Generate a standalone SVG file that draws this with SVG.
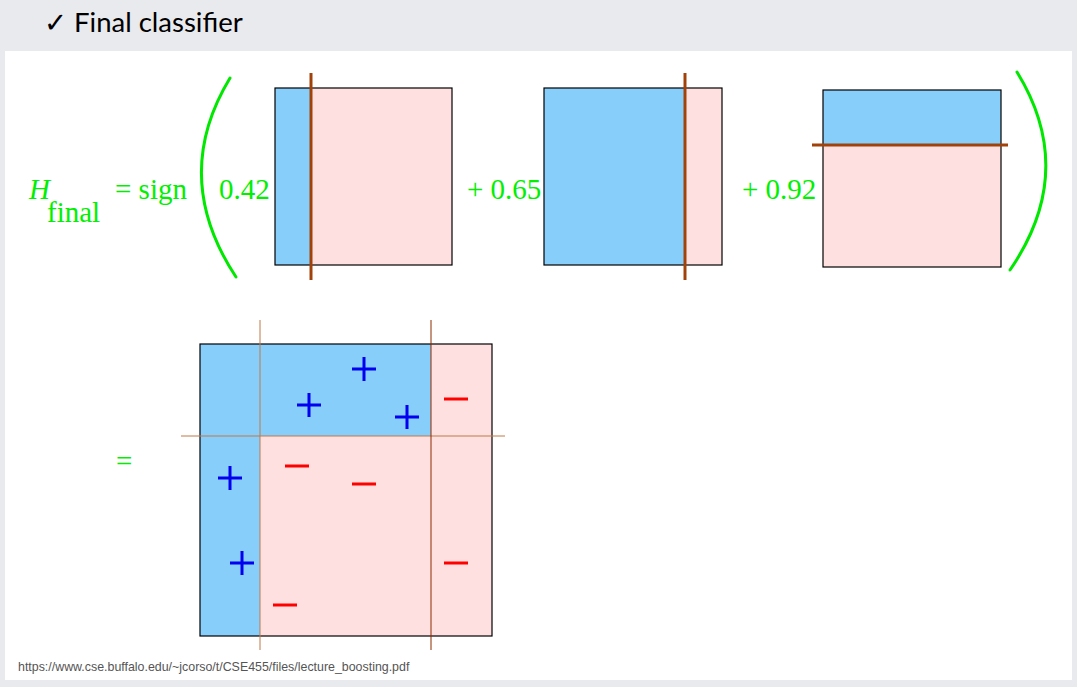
<svg xmlns="http://www.w3.org/2000/svg" width="1077" height="687" viewBox="0 0 1077 687">
<style>
.g{fill:#00f000;font-family:"Liberation Serif",serif;font-size:29px}
.blue{fill:#87cefa}
.pink{fill:#ffe0e0}
.frame{fill:none;stroke:#000;stroke-width:1.2}
.cut{stroke:#a0420a;stroke-width:3}
.paren{fill:none;stroke:#00e800;stroke-width:3;stroke-linecap:round}
.plus{stroke:#0000f0;stroke-width:3;fill:none}
.minus{stroke:#ff0000;stroke-width:3;fill:none}
</style>
<rect x="0" y="0" width="1077" height="687" fill="#e9eaee"/>
<rect x="5" y="51" width="1067" height="629" fill="#fff"/>
<text x="44" y="32" font-family="Lato, 'DejaVu Sans', sans-serif" font-size="27.5" fill="#000">✓ Final classifier</text>

<g id="formula">
<text class="g" x="29" y="199" font-style="italic">H</text>
<text class="g" x="47" y="222">final</text>
<text class="g" x="115" y="199">= sign</text>
<path class="paren" d="M230,78 Q170,177 236,277"/>
<text class="g" x="219" y="199">0.42</text>
<text class="g" x="467" y="199">+ 0.65</text>
<text class="g" x="742" y="199">+ 0.92</text>
<path class="paren" d="M1017,72 Q1078,171 1010,270"/>
</g>

<g id="stump1">
<rect class="blue" x="275" y="88" width="36" height="177"/>
<rect class="pink" x="311" y="88" width="141" height="177"/>
<rect class="frame" x="275" y="88" width="177" height="177"/>
<line class="cut" x1="311" y1="73" x2="311" y2="280"/>
</g>

<g id="stump2">
<rect class="blue" x="544" y="88" width="141" height="177"/>
<rect class="pink" x="685" y="88" width="37" height="177"/>
<rect class="frame" x="544" y="88" width="178" height="177"/>
<line class="cut" x1="685" y1="73" x2="685" y2="280"/>
</g>

<g id="stump3">
<rect class="blue" x="823" y="90" width="178" height="55"/>
<rect class="pink" x="823" y="145" width="178" height="122"/>
<rect class="frame" x="823" y="90" width="178" height="177"/>
<line class="cut" x1="812" y1="145" x2="1008" y2="145"/>
</g>

<g id="result">
<text class="g" x="116" y="471">=</text>
<rect class="pink" x="200" y="344" width="292" height="292"/>
<rect class="blue" x="200" y="344" width="60" height="292"/>
<rect class="blue" x="260" y="344" width="171" height="92"/>
<rect class="frame" x="200" y="344" width="292" height="292"/>
<line x1="260" y1="320" x2="260" y2="650" stroke="#c07848" stroke-width="1"/>
<line x1="181" y1="436" x2="505" y2="436" stroke="#c07848" stroke-width="1"/>
<line x1="431" y1="320" x2="431" y2="650" stroke="#8b2a00" stroke-width="1"/>
<path class="plus" d="M352,369h24M364,357v24"/>
<path class="plus" d="M297,405h24M309,393v24"/>
<path class="plus" d="M395,417h24M407,405v24"/>
<path class="plus" d="M218,478h24M230,466v24"/>
<path class="plus" d="M230,563h24M242,551v24"/>
<path class="minus" d="M444,399h24"/>
<path class="minus" d="M285,466h24"/>
<path class="minus" d="M352,484h24"/>
<path class="minus" d="M444,563h24"/>
<path class="minus" d="M273,605h24"/>
</g>

<text x="18" y="671" font-family="'Liberation Sans', sans-serif" font-size="12.4" fill="#555">https://www.cse.buffalo.edu/~jcorso/t/CSE455/files/lecture_boosting.pdf</text>
</svg>
